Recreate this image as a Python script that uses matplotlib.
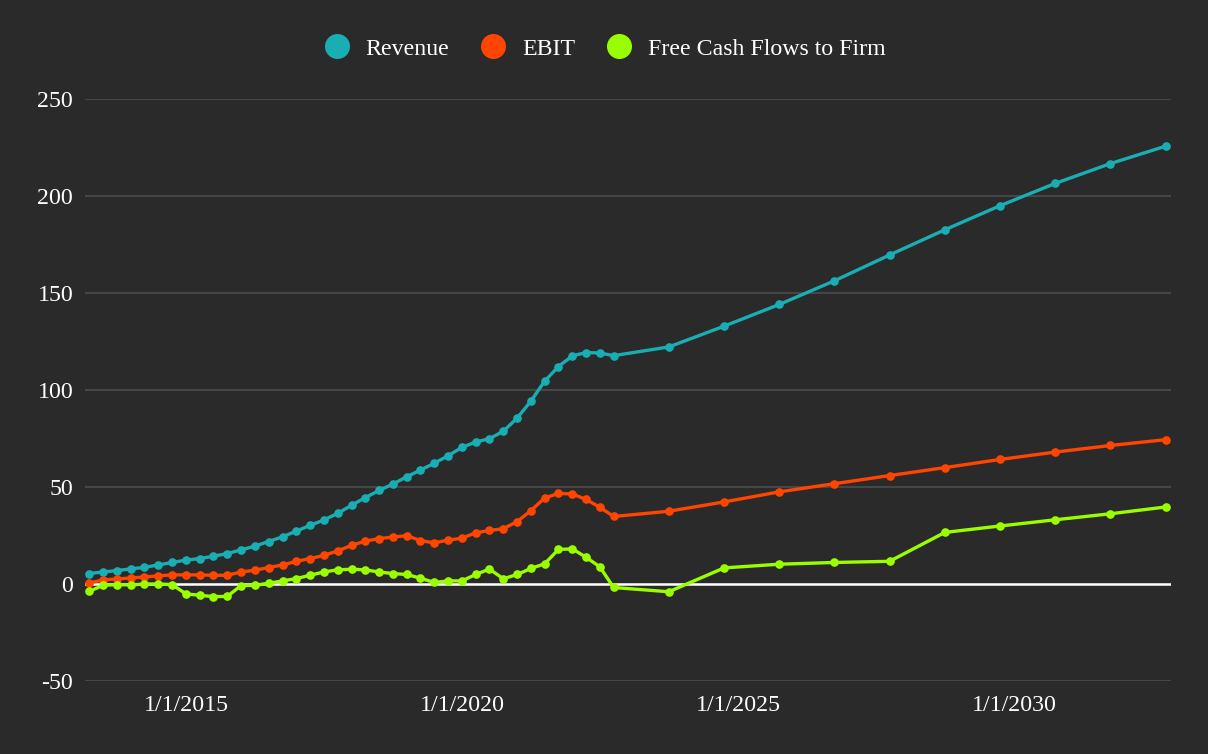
import matplotlib
matplotlib.use("Agg")
import matplotlib.pyplot as plt
from matplotlib.lines import Line2D
import pandas as pd
import datetime as dt

plt.rcParams['font.family'] = ['Liberation Serif', 'DejaVu Serif']

# ---- data ----
quarterly_dates = pd.date_range("2013-03-31", "2022-09-30", freq="QE")
annual_dates = pd.to_datetime([f"{y}-09-30" for y in range(2023, 2033)])
dates = list(quarterly_dates) + list(annual_dates)

revenue = [5.4, 6.2, 6.9, 7.8, 8.6, 9.8, 11.1, 12.3, 13.1, 14.3,
           15.7, 17.6, 19.5, 21.9, 24.3, 27.3, 30.2, 33.0, 36.4, 40.6,
           44.5, 48.2, 51.5, 55.3, 58.7, 62.2, 66.1, 70.4, 73.2, 74.9,
           78.7, 85.6, 94.2, 104.5, 112.1, 117.6, 119.3, 119.1, 117.7,
           122.2, 132.9, 144.1, 156.3, 169.6, 182.6, 195.0, 206.5, 216.7, 225.7]
ebit = [0.5, 2.1, 2.6, 3.1, 3.6, 4.2, 4.7, 4.7, 4.7, 4.5,
        4.5, 6.2, 7.1, 8.5, 9.8, 11.7, 13.1, 14.7, 17.1, 19.9,
        22.1, 23.4, 24.2, 24.9, 22.4, 21.2, 22.6, 23.6, 26.4, 27.6,
        28.5, 32.2, 37.8, 44.3, 46.7, 46.4, 43.6, 39.6, 34.8,
        37.5, 42.3, 47.5, 51.7, 55.9, 60.0, 64.2, 68.0, 71.4, 74.4]
fcf = [-3.8, -0.7, -0.3, -0.5, 0.0, 0.0, -0.3, -5.1, -5.8, -6.5,
       -6.4, -0.8, -0.7, 0.4, 1.6, 2.8, 4.5, 6.2, 7.3, 7.6,
       7.3, 6.2, 5.4, 4.9, 3.0, 0.8, 1.6, 1.6, 4.9, 7.7,
       2.7, 4.9, 8.0, 10.4, 17.8, 18.1, 13.8, 8.9, -1.8,
       -4.0, 8.3, 10.2, 11.1, 11.7, 26.6, 29.9, 33.1, 36.2, 39.7]

series_names = ["Revenue", "EBIT", "Free Cash Flows to Firm"]
series_values = [revenue, ebit, fcf]
series_colors = ["#19AEB4", "#FF4500", "#99FF00"]

y_ticks = [-50, 0, 50, 100, 150, 200, 250]
x_ticks = [dt.datetime(2015, 1, 1), dt.datetime(2020, 1, 1),
           dt.datetime(2025, 1, 1), dt.datetime(2030, 1, 1)]

# ---- figure ----
W, H = 1208, 754
bg = "#2A2A2A"
fig = plt.figure(figsize=(W / 100, H / 100), dpi=100, facecolor=bg)
ax = fig.add_axes([85 / W, (H - 681) / H, (1171 - 85) / W, (681 - 99) / H])
ax.set_facecolor(bg)

for name, vals, col in zip(series_names, series_values, series_colors):
    ax.plot(dates, vals, color=col, lw=2.4, marker="o", markersize=5.2,
            zorder=3, solid_joinstyle="round")

ax.set_ylim(-50, 250)
ax.set_yticks(y_ticks)
ax.set_yticklabels([str(v) for v in y_ticks])
ax.set_xlim(dates[0] - pd.Timedelta(days=28), dates[-1] + pd.Timedelta(days=35))
ax.set_xticks(x_ticks)
ax.set_xticklabels([f"{d.month}/{d.day}/{d.year}" for d in x_ticks])

ax.grid(axis="y", color="#464646", lw=1.5, zorder=1)
ax.grid(axis="x", visible=False)
ax.axhline(0, color="white", lw=1.8, zorder=2)
for s in ax.spines.values():
    s.set_visible(False)
ax.tick_params(axis="both", length=0, colors="white", labelsize=17.2)
ax.tick_params(axis="y", pad=8.5)
ax.tick_params(axis="x", pad=10)

handles = [Line2D([0], [0], marker="o", color="none", markerfacecolor=c,
                  markeredgecolor=c, markersize=17) for c in series_colors]
leg = fig.legend(handles, series_names, loc="center", bbox_to_anchor=(0.5, 1 - 49 / H),
                 ncol=3, frameon=False, fontsize=17.2, labelcolor="white",
                 handletextpad=0.6, columnspacing=1.24, handlelength=1.2)

fig.savefig("out.png", dpi=100, facecolor=bg)
